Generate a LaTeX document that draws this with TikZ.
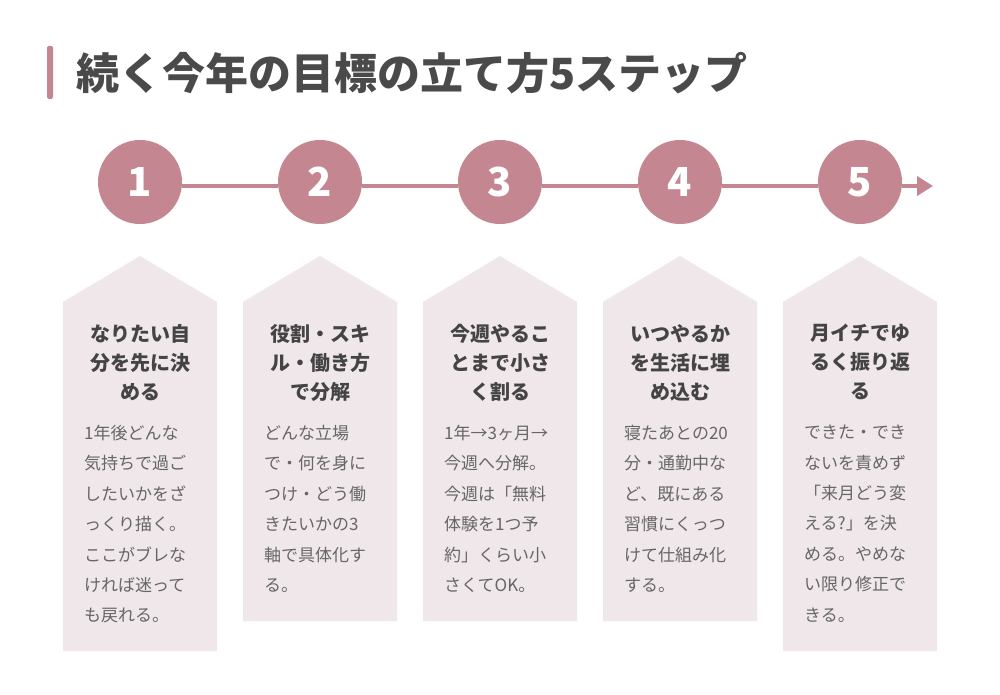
\documentclass[tikz,border=0pt]{standalone}
\usepackage{fontspec}
\newfontfamily\jp{Noto Sans CJK JP}
\usetikzlibrary{arrows.meta}
\definecolor{accent}{RGB}{196,134,144}
\definecolor{boxfill}{RGB}{239,231,233}
\definecolor{titlegray}{RGB}{74,74,74}
\definecolor{headgray}{RGB}{68,68,68}
\definecolor{bodygray}{RGB}{102,102,102}
\tikzset{
  stepcircle/.style={circle,fill=accent,minimum size=84pt,inner sep=0pt,text=white,font=\jp\bfseries\fontsize{40}{40}\selectfont},
  linkline/.style={draw=accent,line width=4pt},
  pentbox/.style={fill=boxfill},
  headtext/.style={anchor=north,inner sep=0pt,align=center,text=headgray,font=\jp\bfseries\fontsize{20}{29}\selectfont},
  bodytext/.style={anchor=north west,inner sep=0pt,align=left,text=bodygray,font=\jp\fontsize{17}{30.4}\selectfont},
}
\begin{document}
\begin{tikzpicture}[x=1pt,y=-1pt]
\useasboundingbox (0,0) rectangle (1000,695);
\fill[white] (0,0) rectangle (1000,695);
% title
\fill[accent,rounded corners=1.5pt] (47,46) rectangle (53,99);
\node[anchor=west,inner sep=0pt,text=titlegray,font=\jp\bfseries\fontsize{43}{43}\selectfont] (title) at (76,73) {続く今年の目標の立て方5ステップ};
% boxes
\foreach \cx/\bot in {140/651,320/621,500/621,680/621,860/651}{
  \fill[pentbox] (\cx-77,302) -- (\cx,256) -- (\cx+77,302) -- (\cx+77,\bot) -- (\cx-77,\bot) -- cycle;
}
% circles
\node[stepcircle] (c1) at (140,182) {1};
\node[stepcircle] (c2) at (320,182) {2};
\node[stepcircle] (c3) at (500,182) {3};
\node[stepcircle] (c4) at (680,182) {4};
\node[stepcircle] (c5) at (860,182) {5};
\coordinate (arrowend) at (933,186);
\draw[linkline] ([yshift=-4pt]c1.east) -- ([yshift=-4pt]c2.west);
\draw[linkline] ([yshift=-4pt]c2.east) -- ([yshift=-4pt]c3.west);
\draw[linkline] ([yshift=-4pt]c3.east) -- ([yshift=-4pt]c4.west);
\draw[linkline] ([yshift=-4pt]c4.east) -- ([yshift=-4pt]c5.west);
\draw[linkline,-{Triangle[length=16pt,width=19pt]}] ([yshift=-4pt]c5.east) -- (arrowend);
% headings
\node[headtext] (h1) at (140,324) {なりたい自\\分を先に決\\める};
\node[headtext] (h2) at (320,324) {役割・スキ\\ル・働き方\\で分解};
\node[headtext] (h3) at (500,324) {今週やるこ\\とまで小さ\\く割る};
\node[headtext] (h4) at (680,324) {いつやるか\\を生活に埋\\め込む};
\node[headtext] (h5) at (860,324) {月イチでゆ\\るく振り返\\る};
% bodies
\node[bodytext] (b1) at (84,425) {1年後どんな\\気持ちで過ご\\したいかをざ\\っくり描く。\\ここがブレな\\ければ迷って\\も戻れる。};
\node[bodytext] (b2) at (264,425) {どんな立場\\で・何を身に\\つけ・どう働\\きたいかの3\\軸で具体化す\\る。};
\node[bodytext] (b3) at (444,425) {1年→3ヶ月→\\今週へ分解。\\今週は「無料\\体験を1つ予\\約」くらい小\\さくてOK。};
\node[bodytext] (b4) at (624,425) {寝たあとの20\\分・通勤中な\\ど、既にある\\習慣にくっつ\\けて仕組み化\\する。};
\node[bodytext] (b5) at (804,425) {できた・でき\\ないを責めず\\「来月どう変\\える?」を決\\める。やめな\\い限り修正で\\きる。};
\end{tikzpicture}
\end{document}
